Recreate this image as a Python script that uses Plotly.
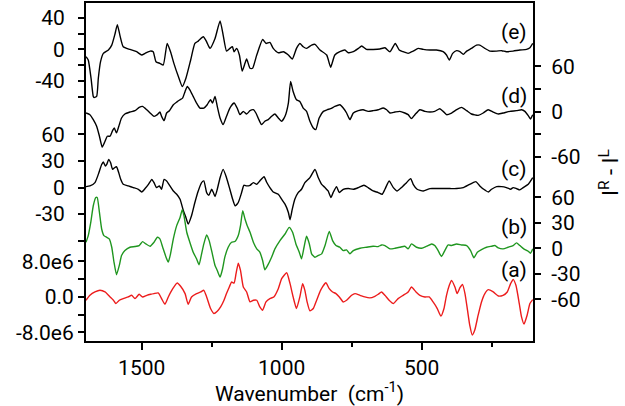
import plotly.graph_objects as go

# ---- data: wavenumber (cm-1) and I^R - I^L for each spectrum ----
E_WN = [1699, 1691, 1681, 1673, 1670, 1661, 1655, 1647, 1637, 1619, 1607, 1595, 1587, 1578, 1566, 1542, 1518, 1500, 1488, 1470,
        1459, 1449, 1435, 1423, 1409, 1397, 1385, 1369, 1355, 1342, 1325, 1310, 1298, 1280, 1268, 1256, 1238, 1220, 1209, 1197,
        1185, 1176, 1170, 1161, 1151, 1141, 1131, 1125, 1113, 1104, 1089, 1068, 1056, 1042, 1030, 1012, 994, 976, 962, 947,
        935, 923, 911, 893, 881, 863, 839, 825, 810, 792, 774, 762, 744, 726, 714, 697, 673, 649, 631, 613,
        594, 580, 566, 548, 530, 512, 494, 470, 447, 423, 411, 401, 389, 375, 363, 351, 339, 322, 304, 292,
        274, 256, 232, 214, 197, 173, 149, 125, 113, 103]
E_VAL = [-9.2, -13.4, -36.6, -59.8, -61.1, -59.8, -36.6, -15.6, -5.0, -0.8, 5.5, 20.3, 31.6, 18.2, 3.4, 0.0, -2.9, -7.1, -5.0, -2.1,
         -2.9, -15.6, -17.7, -19.8, 7.6, -2.9, -17.7, -34.5, -47.2, -36.6, -13.4, 7.6, 10.6, 16.1, 9.7, 1.3, 13.9, 36.3, 18.2, -2.1,
         1.3, 3.4, -2.9, 1.3, -7.1, -27.4, -17.7, -12.2, -24.0, -24.0, -7.1, 12.7, 7.6, 8.9, 1.3, -4.2, -2.9, -7.1, -12.2, 1.3,
         7.6, 3.4, 1.3, 5.5, 6.4, -0.8, -7.1, -22.7, -7.1, -2.9, -0.8, -4.2, -2.9, 1.3, 4.3, 0.0, 0.0, 0.5, 2.1, -2.9,
         7.6, -0.8, -2.9, -5.0, -2.1, 1.3, 0.0, -0.8, -0.8, -2.9, -7.1, -13.4, -5.0, -1.6, -2.9, -6.3, -2.1, 1.3, 5.5, 5.5,
         1.3, -2.1, -2.1, -1.6, -2.9, -2.1, -0.8, 0.0, 2.1, 7.6]

D_WN = [1699, 1685, 1673, 1661, 1651, 1641, 1631, 1623, 1613, 1604, 1598, 1590, 1580, 1572, 1560, 1542, 1524, 1509, 1497, 1482,
        1470, 1456, 1444, 1435, 1429, 1420, 1411, 1401, 1387, 1375, 1363, 1354, 1345, 1337, 1328, 1316, 1304, 1292, 1278, 1266,
        1259, 1254, 1247, 1238, 1230, 1220, 1209, 1197, 1185, 1170, 1159, 1149, 1137, 1125, 1113, 1101, 1092, 1084, 1072, 1060,
        1048, 1036, 1024, 1012, 1000, 988, 976, 968, 959, 947, 935, 923, 911, 899, 887, 878, 866, 851, 837, 825,
        810, 792, 780, 768, 756, 744, 726, 709, 691, 673, 655, 637, 625, 613, 595, 578, 560, 548, 536, 524,
        506, 488, 470, 453, 435, 423, 411, 393, 375, 357, 339, 322, 298, 280, 262, 244, 226, 209, 185, 161,
        143, 131, 119, 111, 103]
D_VAL = [-1.8, -4.0, -10.6, -19.4, -32.6, -47.1, -39.2, -32.6, -32.6, -25.1, -21.6, -28.2, -17.2, -8.4, -3.1, -0.5, 1.3, 5.7, 7.0, 2.6,
         -1.8, -6.2, -4.0, -0.5, -6.2, -11.9, -1.8, 1.3, 9.2, 12.7, 15.8, 18.0, 26.8, 33.4, 29.0, 20.2, 11.4, 4.8, 4.8, 9.2,
         13.6, 15.8, 11.4, 20.2, 7.0, -8.4, -17.2, -6.2, 4.8, 11.4, 4.8, -4.0, 0.4, -3.1, 1.3, 2.6, -1.8, -8.4, -17.2, -12.8,
         -10.6, -6.2, -3.1, -8.4, -12.8, -6.2, 11.4, 40.0, 26.8, 15.8, 13.6, 4.8, 0.4, -12.8, -21.6, -23.8, -8.4, 0.4, 2.6, 3.9,
         7.0, 9.2, 4.8, -1.8, -10.6, -1.8, 1.3, 2.6, 0.4, 1.3, 2.6, 4.8, 2.6, -1.8, -0.5, 0.4, -1.8, -4.0, -9.3, -4.0,
         2.6, 0.4, -0.5, 0.4, 3.9, 0.4, -4.0, -1.8, 2.6, 5.7, 1.3, -3.1, -4.9, -1.8, 2.6, -0.5, -3.1, -1.8, 0.4, 1.3,
         2.6, 0.4, -5.3, -9.7, -4.0]

C_WN = [1699, 1685, 1667, 1655, 1643, 1637, 1630, 1625, 1618, 1611, 1604, 1597, 1590, 1582, 1575, 1566, 1548, 1530, 1512, 1500,
        1488, 1476, 1464, 1456, 1447, 1437, 1429, 1420, 1411, 1399, 1387, 1375, 1363, 1351, 1342, 1334, 1322, 1310, 1298, 1286,
        1278, 1268, 1260, 1250, 1244, 1238, 1230, 1220, 1209, 1197, 1185, 1175, 1166, 1155, 1143, 1135, 1125, 1113, 1101, 1089,
        1078, 1063, 1054, 1042, 1030, 1012, 1000, 988, 976, 970, 962, 953, 941, 929, 917, 899, 881, 869, 857, 845,
        834, 824, 816, 804, 794, 780, 762, 744, 726, 706, 691, 673, 655, 641, 631, 616, 601, 587, 572, 554,
        539, 530, 516, 494, 470, 447, 423, 399, 375, 351, 328, 306, 292, 278, 262, 250, 232, 214, 197, 182,
        173, 161, 149, 137, 119, 103]
C_VAL = [1.0, 1.8, 5.5, 14.8, 26.0, 28.7, 24.2, 26.0, 31.7, 27.9, 20.4, 22.3, 23.4, 16.7, 9.2, 3.6, 1.8, -0.1, -2.0, -5.0,
         -1.2, 3.6, 9.2, 5.5, -0.1, 1.8, -2.0, 9.2, 7.4, 1.8, -3.9, -7.6, -13.2, -26.3, -33.7, -41.2, -31.9, -16.9, -3.9, 5.5,
         7.4, -5.7, -8.7, -2.0, -5.7, -10.2, -2.0, 11.1, 20.4, 11.1, -2.0, -13.2, -20.7, -16.9, -5.7, 2.5, 1.8, 2.5, 5.5, 3.6,
         7.4, 12.2, 6.2, -0.1, -5.0, -7.6, -13.2, -18.8, -28.1, -36.4, -24.4, -13.2, -5.7, -2.0, 5.5, 11.1, 20.4, 11.1, 3.6, -0.1,
         -3.9, -11.3, -5.7, 1.0, -5.7, -2.0, -1.2, -2.0, -0.1, 2.5, -0.1, -3.9, -5.7, -7.6, -2.0, 7.4, -0.1, -3.9, -0.1, 5.5,
         10.0, 3.6, -2.0, -3.9, -1.2, -1.2, -1.2, -1.2, -1.2, -0.1, 3.6, 6.6, 1.8, -2.0, -5.0, -2.0, 1.0, 1.0, -0.1, -2.0,
         -0.1, -1.2, -2.7, -0.1, 3.6, 11.1]

B_WN = [1699, 1691, 1682, 1673, 1664, 1659, 1651, 1643, 1635, 1625, 1616, 1607, 1599, 1590, 1580, 1572, 1560, 1542, 1524, 1509,
        1497, 1485, 1470, 1456, 1444, 1435, 1425, 1413, 1405, 1397, 1387, 1375, 1363, 1355, 1349, 1339, 1328, 1316, 1304, 1295,
        1286, 1278, 1268, 1259, 1249, 1238, 1230, 1220, 1211, 1203, 1191, 1179, 1167, 1155, 1147, 1139, 1131, 1123, 1113, 1101,
        1089, 1078, 1068, 1060, 1050, 1036, 1024, 1006, 988, 973, 961, 949, 937, 929, 920, 911, 901, 893, 881, 869,
        857, 845, 830, 818, 806, 792, 780, 768, 756, 744, 720, 697, 673, 655, 643, 631, 613, 595, 578, 560,
        548, 536, 518, 500, 482, 464, 453, 441, 429, 417, 405, 393, 375, 357, 339, 325, 313, 301, 286, 268,
        250, 238, 226, 209, 191, 173, 161, 149, 135, 119, 111, 103]
B_VAL = [7.2, 15.0, 30.6, 50.1, 59.8, 59.8, 42.3, 22.8, 15.0, 13.0, 11.1, 1.3, -16.2, -31.0, -20.1, -8.4, -2.6, 1.3, 2.1, 3.3,
         7.9, 5.2, 2.5, 7.2, 13.0, 11.1, 1.3, -10.4, -16.2, -6.5, 11.1, 26.7, 36.4, 45.4, 38.4, 18.9, 7.2, -4.5, -12.3, -19.3,
         -6.5, 5.2, 15.7, 9.1, -4.5, -20.1, -26.0, -33.8, -24.0, -10.4, 1.3, 7.2, 8.0, 15.0, 26.7, 44.2, 34.5, 26.7, 18.9, 7.2,
         -0.6, -4.5, -14.3, -25.2, -20.1, -10.4, -0.6, 9.1, 16.9, 24.7, 18.9, 5.2, -4.5, -12.3, 1.3, 14.2, 5.2, -6.5, -10.4, -8.4,
         -6.5, 3.3, 20.0, 9.1, 3.3, 1.3, -2.6, -1.8, -6.5, -2.6, 0.1, 1.3, 2.5, 2.1, 4.0, 3.3, -0.6, 0.1, 1.3, 2.5,
         -0.6, 5.2, 1.3, 0.1, 2.5, 5.2, 3.3, -2.6, -9.6, -2.6, 4.0, 3.3, 5.2, 4.0, 3.3, -2.6, -11.2, -4.5, -1.4, 1.3,
         2.5, 3.3, 0.5, -0.6, 1.3, 3.3, 6.4, 3.3, -0.6, -3.4, -5.7, -0.6]

A_WN = [1699, 1685, 1667, 1649, 1631, 1613, 1601, 1592, 1580, 1566, 1548, 1536, 1524, 1509, 1497, 1482, 1468, 1456, 1441, 1429,
        1417, 1405, 1389, 1373, 1361, 1345, 1334, 1322, 1304, 1289, 1278, 1268, 1254, 1242, 1230, 1218, 1206, 1197, 1187, 1179,
        1170, 1163, 1155, 1147, 1137, 1125, 1113, 1101, 1089, 1078, 1068, 1056, 1042, 1028, 1012, 1000, 982, 970, 959, 947,
        935, 925, 917, 909, 899, 887, 875, 861, 842, 830, 818, 806, 794, 780, 768, 750, 738, 720, 703, 685,
        667, 655, 643, 631, 616, 601, 584, 566, 548, 536, 520, 506, 488, 473, 459, 444, 431, 420, 411, 401,
        393, 381, 373, 363, 354, 345, 336, 328, 319, 310, 298, 286, 274, 262, 244, 226, 209, 194, 182, 173,
        163, 151, 143, 134, 123, 113, 103]
A_VAL = [-0.78e6, 0.33e6, 1.08e6, 1.45e6, 1.08e6, -0.04e6, -0.78e6, -1.53e6, -0.78e6, -0.41e6,
         -0.04e6, 0.33e6, -0.41e6, 0.56e6, -0.04e6, 0.33e6, 0.56e6, 0.71e6, 0.86e6, -0.41e6,
         -1.68e6, -0.04e6, 1.82e6, 3.09e6, 2.35e6, 0.71e6, -1.68e6, -0.04e6, 0.71e6, 1.08e6,
         1.45e6, -0.04e6, -2.65e6, -3.76e6, -3.24e6, -2.27e6, -0.78e6, 0.71e6, 2.20e6, 3.31e6,
         3.09e6, 5.18e6, 7.56e6, 5.92e6, 2.20e6, 1.08e6, -1.16e6, -0.78e6, -0.78e6, -2.27e6,
         -3.02e6, -1.16e6, -0.41e6, -0.04e6, 1.82e6, 4.06e6, 5.40e6, 2.94e6, -0.04e6, -2.65e6,
         -0.04e6, 2.94e6, 1.45e6, -1.16e6, -3.17e6, -2.65e6, -0.78e6, 1.45e6, 3.16e6, 1.82e6,
         1.08e6, 0.71e6, -0.04e6, -1.16e6, -0.78e6, 0.33e6, 0.71e6, 0.33e6, -0.04e6, -0.26e6,
         0.11e6, 0.56e6, 1.08e6, 0.33e6, -0.78e6, -1.53e6, -0.41e6, 0.33e6, 1.08e6, 2.20e6,
         1.08e6, 0.33e6, -0.04e6, -0.04e6, -1.16e6, -2.65e6, -4.36e6, -2.65e6, 0.33e6, 2.57e6,
         3.69e6, 2.20e6, 0.71e6, 2.05e6, 2.79e6, 0.71e6, -3.02e6, -6.37e6, -8.60e6, -7.49e6,
         -4.14e6, -1.16e6, 0.71e6, 1.60e6, 1.08e6, 0.18e6, 0.33e6, 1.08e6, 2.94e6, 3.91e6,
         2.57e6, -1.53e6, -4.51e6, -6.15e6, -4.14e6, -1.53e6, -0.63e6]

LABELS = ["(e)", "(d)", "(c)", "(b)", "(a)"]
X_TICKS = [1500, 1000, 500]
X_MINOR = [1250, 750, 250]

# ---- layout constants ----
W, H = 625, 406
M_L, M_R, M_T, M_B = 86, 92, 1, 65
TOP_PX, BOT_PX = M_T, H - M_B
FONT = "Roboto, Arial, sans-serif"
GREEN = "#1f961f"
RED = "#ec1c1c"


def y_range(zero_px, px_per_unit):
    """Axis range that puts 0 at the given pixel row with the given scale."""
    return [-(BOT_PX - zero_px) / px_per_unit, (zero_px - TOP_PX) / px_per_unit]


def y_axis(side, rng, vals, text, minor_vals, **kw):
    ax = dict(
        side=side, range=rng, tickmode="array", tickvals=vals, ticktext=text,
        ticks="outside", ticklen=6, tickwidth=1.5, tickcolor="black",
        minor=dict(tickmode="array", tickvals=minor_vals, ticks="outside",
                   ticklen=6, tickwidth=1.5, tickcolor="black"),
        showline=True, linewidth=2, linecolor="black",
        showgrid=False, zeroline=False, fixedrange=True,
        tickfont=dict(family=FONT, size=21, color="black"),
    )
    ax.update(kw)
    return ax


series = [
    (E_WN, E_VAL, "y", "black"),
    (D_WN, D_VAL, "y2", "black"),
    (C_WN, C_VAL, "y3", "black"),
    (B_WN, B_VAL, "y4", GREEN),
    (A_WN, A_VAL, "y5", RED),
]

fig = go.Figure()
for wn, val, yax, col in series:
    fig.add_trace(go.Scatter(x=wn, y=val, yaxis=yax, mode="lines",
                             line=dict(color=col, width=1.4, shape="spline", smoothing=0.5),
                             hoverinfo="skip"))

fig.update_layout(
    width=W, height=H,
    margin=dict(l=M_L, r=M_R, t=M_T, b=M_B),
    paper_bgcolor="white", plot_bgcolor="white",
    showlegend=False,
    font=dict(family=FONT, size=21, color="black"),
    xaxis=dict(
        range=[1699, 102], tickmode="array", tickvals=X_TICKS,
        ticks="outside", ticklen=7, tickwidth=1.5, tickcolor="black",
        minor=dict(tickmode="array", tickvals=X_MINOR, ticks="outside",
                   ticklen=4, tickwidth=1.5, tickcolor="black"),
        showline=True, linewidth=2, linecolor="black", mirror=True,
        showgrid=False, zeroline=False,
        tickfont=dict(family=FONT, size=21, color="black"),
        title=dict(text="Wavenumber&nbsp; (cm<sup>-1</sup>)",
                   font=dict(family=FONT, size=21, color="black"), standoff=4),
    ),
    yaxis=y_axis("left", y_range(47.7, 0.791), [40, 0, -40], ["40", "0", "-40"],
                 [20, -20, -60], ticklabelstandoff=9),
    yaxis2=y_axis("right", y_range(110.3, 0.758), [60, 0, -60], ["60", "0", "-60"],
                  [30, -30], overlaying="y", anchor="x", ticklabelstandoff=6),
    yaxis3=y_axis("left", y_range(186.6, 0.892), [60, 30, 0, -30], ["60", "30", "0", "-30"],
                  [-60], overlaying="y", anchor="x", ticklabelstandoff=9),
    yaxis4=y_axis("right", y_range(247.8, 0.855), [60, 30, 0, -30, -60],
                  ["60", "30", "0", "-30", "-60"], [], overlaying="y", anchor="x",
                  ticklabelstandoff=6),
    yaxis5=y_axis("left", y_range(296.5, 4.475e-6), [8e6, 0, -8e6], ["8.0e6", "0.0", "-8.0e6"],
                  [4e6, -4e6], overlaying="y", anchor="x"),
)

# spectrum labels inside the right edge
label_y = [0.915, 0.726, 0.509, 0.338, 0.209]
for txt, yy in zip(LABELS, label_y):
    fig.add_annotation(text=txt, xref="paper", yref="paper", x=0.992, y=yy,
                       xanchor="right", yanchor="middle", showarrow=False,
                       font=dict(family=FONT, size=21, color="black"))

# right-hand axis title
fig.add_annotation(text="I<sup>R</sup> - I<sup>L</sup>", xref="paper", yref="paper",
                   x=1.17, y=0.5, textangle=-90, xanchor="center", yanchor="middle",
                   showarrow=False, font=dict(family=FONT, size=22, color="black"))

# the page's default body margin would shift the figure by 8 px
fig.write_html("out.html", config={"displayModeBar": False},
               post_script="document.body.style.margin='0';")
